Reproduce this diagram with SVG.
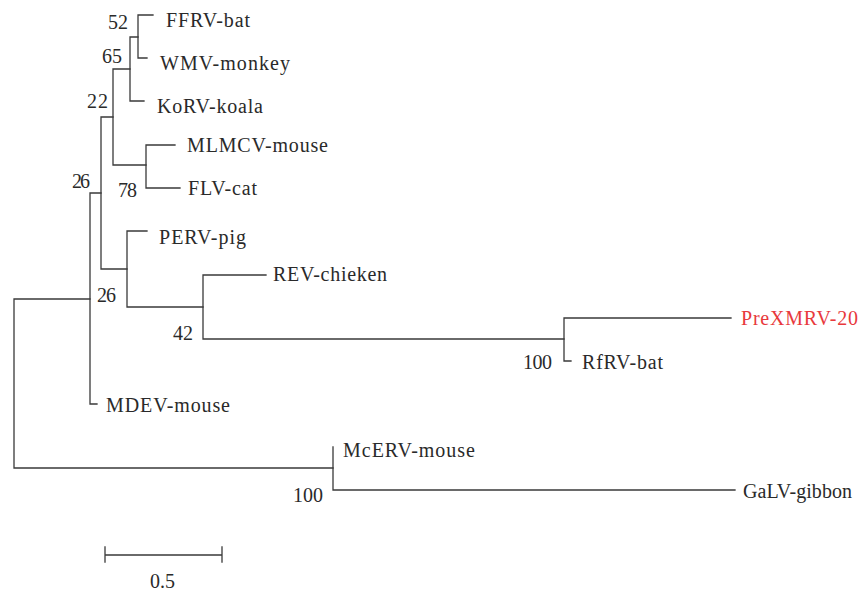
<svg xmlns="http://www.w3.org/2000/svg" width="864" height="591" viewBox="0 0 864 591">
<style>
.br{fill:none;stroke:#3a3a3a;stroke-width:1.3;stroke-linecap:square}
text{font-family:"Liberation Serif","Times New Roman",serif;font-size:20px;fill:#2a2a2a}
.red{fill:#e8393c}
</style>
<rect width="864" height="591" fill="#ffffff"/>
<g id="connectors">
<path class="br" d="M138,15V58M138,15H153M138,58H147"/>
<path class="br" d="M130,37V101M130,37H138M130,101H144"/>
<path class="br" d="M113,69V165M113,69H130M113,165H146"/>
<path class="br" d="M146,145V188M146,145H175M146,188H180"/>
<path class="br" d="M101,117V269M101,117H113M101,269H127"/>
<path class="br" d="M127,231V307M127,231H147M127,307H203"/>
<path class="br" d="M203,275V339M203,275H266M203,339H564"/>
<path class="br" d="M564,318V361M564,318H731M564,361H571"/>
<path class="br" d="M90,193V404M90,193H101M90,404H97"/>
<path class="br" d="M14,299V468M14,299H90M14,468H333"/>
<path class="br" d="M333,447V490M333,490H735"/>
</g>
<g id="leaves">
<g id="FFRV-bat"><text x="166" y="27" textLength="84" lengthAdjust="spacing">FFRV-bat</text></g>
<g id="WMV-monkey"><text x="160" y="70" textLength="130" lengthAdjust="spacing">WMV-monkey</text></g>
<g id="KoRV-koala"><text x="157" y="113" textLength="106" lengthAdjust="spacing">KoRV-koala</text></g>
<g id="MLMCV-mouse"><text x="187" y="152" textLength="141" lengthAdjust="spacing">MLMCV-mouse</text></g>
<g id="FLV-cat"><text x="188" y="195" textLength="69" lengthAdjust="spacing">FLV-cat</text></g>
<g id="PERV-pig"><text x="159" y="244" textLength="87" lengthAdjust="spacing">PERV-pig</text></g>
<g id="REV-chieken"><text x="273" y="281" textLength="114" lengthAdjust="spacing">REV-chieken</text></g>
<g id="PreXMRV-20"><text class="red" x="741" y="325" textLength="117" lengthAdjust="spacing">PreXMRV-20</text></g>
<g id="RfRV-bat"><text x="582" y="369" textLength="81" lengthAdjust="spacing">RfRV-bat</text></g>
<g id="MDEV-mouse"><text x="106" y="412" textLength="124" lengthAdjust="spacing">MDEV-mouse</text></g>
<g id="McERV-mouse"><text x="343" y="457" textLength="132" lengthAdjust="spacing">McERV-mouse</text></g>
<g id="GaLV-gibbon"><text x="743" y="498" textLength="109" lengthAdjust="spacing">GaLV-gibbon</text></g>
</g>
<g id="bootstrap">
<text x="108" y="29" textLength="20" lengthAdjust="spacing">52</text>
<text x="102" y="63" textLength="20" lengthAdjust="spacing">65</text>
<text x="87" y="108" textLength="21" lengthAdjust="spacing">22</text>
<text x="118" y="197" textLength="19" lengthAdjust="spacing">78</text>
<text x="72" y="188" textLength="18" lengthAdjust="spacing">26</text>
<text x="97" y="302" textLength="19" lengthAdjust="spacing">26</text>
<text x="173" y="340" textLength="20" lengthAdjust="spacing">42</text>
<text x="523" y="369" textLength="29" lengthAdjust="spacing">100</text>
<text x="293" y="502" textLength="30" lengthAdjust="spacing">100</text>
</g>
<g id="scale-bar">
<path class="br" d="M105,555H222M105,547V562M222,547V562"/>
<text x="150" y="588">0.5</text>
</g>
</svg>
